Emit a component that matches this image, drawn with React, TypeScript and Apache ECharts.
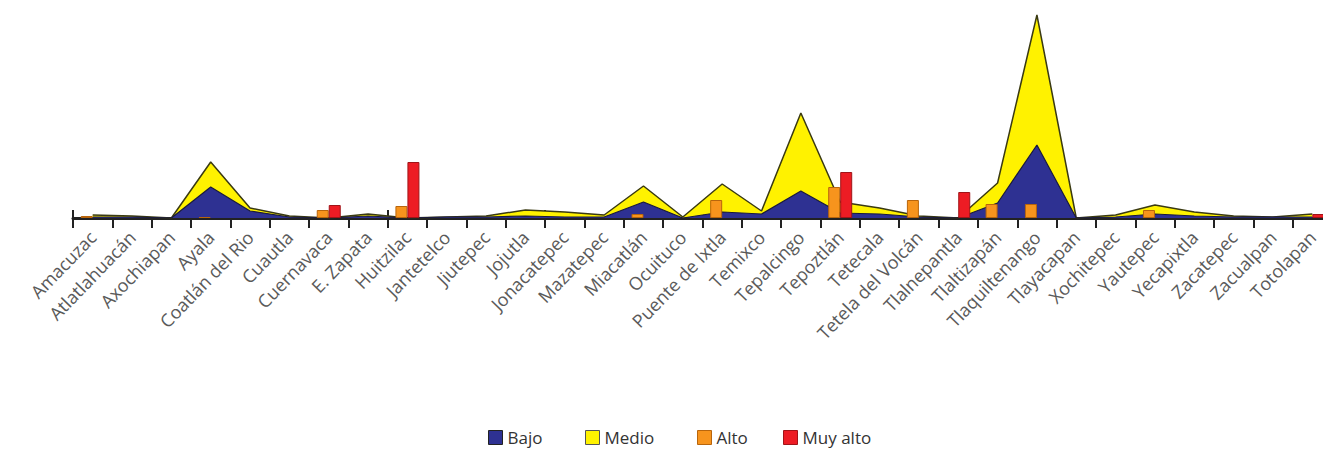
import React, { useEffect, useRef } from "react";
import * as echarts from "echarts";

const municipios = [
  "Amacuzac", "Atlatlahuacán", "Axochiapan", "Ayala", "Coatlán del Rio", "Cuautla",
  "Cuernavaca", "E. Zapata", "Huitzilac", "Jantetelco", "Jiutepec", "Jojutla",
  "Jonacatepec", "Mazatepec", "Miacatlán", "Ocuituco", "Puente de Ixtla", "Temixco",
  "Tepalcingo", "Tepoztlán", "Tetecala", "Tetela del Volcán", "Tlalnepantla", "Tlaltizapán",
  "Tlaquiltenango", "Tlayacapan", "Xochitepec", "Yautepec", "Yecapixtla", "Zacatepec",
  "Zacualpan", "Totolapan",
];

const bajo = [0.5, 0.5, 0, 15.5, 3.5, 0.5, 0, 1, 0, 0.5, 0.5, 1, 0.5, 0.5, 8, 0, 3, 2, 13.5, 2.5, 2, 0.5, 0, 7.5, 36.5, 0, 0.5, 2, 1, 0.5, 0.5, 0.5];
const medio = [1, 0.5, 0, 12.5, 1.5, 0.5, 0, 1, 0, 0, 0.5, 3, 2.5, 1, 8, 0.5, 14, 1.5, 39, 5.5, 3, 0.5, 0, 10, 65, 0, 1, 4.5, 2, 0.5, 0, 1.5];
const alto = [1, 0, 0, 0.5, 0, 0, 4, 0, 6, 0, 0, 0, 0, 0, 2, 0, 9, 0, 0, 15.5, 0, 9, 0, 7, 7, 0, 0, 4, 0, 0, 0, 0];
const muyAlto = [0, 0, 0, 0, 0, 0, 6.5, 0, 28, 0, 0, 0, 0, 0, 0, 0, 0, 0, 0, 23, 0, 0, 13, 0, 0, 0, 0, 0, 0, 0, 0, 2];

const FONT = "'Open Sans', sans-serif";

const legendItems = [
  { name: "Bajo", color: "#2e3192", border: "#222", left: 483 },
  { name: "Medio", color: "#fff200", border: "#555", left: 580 },
  { name: "Alto", color: "#f7941d", border: "#b8650c", left: 692 },
  { name: "Muy alto", color: "#ed1c24", border: "#a01418", left: 778 },
];

const nz = (arr: number[]) => arr.map((v) => (v === 0 ? null : v));

const hiddenY = (gridIndex: number) => ({
  type: "value",
  gridIndex,
  min: 0,
  max: 104,
  show: false,
});

export default function App() {
  const ref = useRef<HTMLDivElement>(null);
  useEffect(() => {
    if (!ref.current) return;
    const chart = echarts.init(ref.current, undefined, { renderer: "svg" });
    const gridBox = { left: 73, width: 1259, top: 10, bottom: 257, containLabel: false, outerBoundsMode: "none" };
    chart.setOption({
      animation: false,
      backgroundColor: "#ffffff",
      textStyle: { fontFamily: FONT },
      grid: [{ ...gridBox }, { ...gridBox }],
      legend: legendItems.map((it) => ({
        left: it.left,
        top: 424,
        itemWidth: 14,
        itemHeight: 14,
        icon: "rect",
        textStyle: { fontSize: 17, color: "#333", fontFamily: FONT },
        data: [
          { name: it.name, itemStyle: { color: it.color, borderColor: it.border, borderWidth: 1 } },
        ],
      })),
      xAxis: [
        {
          type: "category",
          gridIndex: 0,
          data: municipios,
          boundaryGap: true,
          axisLine: { show: true, lineStyle: { color: "#222", width: 3 } },
          axisTick: { show: true, length: 10, lineStyle: { color: "#222", width: 2 } },
          axisLabel: {
            interval: 0,
            rotate: 46,
            margin: 16,
            fontSize: 18,
            color: "#5a5a5a",
            fontFamily: FONT,
          },
        },
        {
          type: "category",
          gridIndex: 1,
          data: municipios,
          boundaryGap: true,
          axisLine: { show: false },
          axisTick: { show: true, inside: true, length: 8, lineStyle: { color: "#222", width: 2 } },
          axisLabel: { show: false },
        },
      ],
      yAxis: [hiddenY(0), hiddenY(1)],
      series: [
        {
          name: "Bajo",
          type: "line",
          stack: "nivel",
          data: bajo,
          symbol: "none",
          z: 2,
          lineStyle: { color: "#1a1a3a", width: 1.2 },
          itemStyle: { color: "#2e3192" },
          areaStyle: { color: "#2e3192", opacity: 1 },
        },
        {
          name: "Medio",
          type: "line",
          stack: "nivel",
          data: medio,
          symbol: "none",
          z: 1,
          lineStyle: { color: "#3a3a12", width: 1.5 },
          itemStyle: { color: "#fff200" },
          areaStyle: { color: "#fff200", opacity: 1 },
        },
        {
          name: "Alto",
          type: "bar",
          data: nz(alto),
          barWidth: 12,
          barGap: "0%",
          z: 5,
          itemStyle: { color: "#f7941d", borderColor: "#b8650c", borderWidth: 1 },
        },
        {
          name: "Muy alto",
          type: "bar",
          data: nz(muyAlto),
          barWidth: 12,
          barGap: "0%",
          z: 5,
          itemStyle: { color: "#ed1c24", borderColor: "#a01418", borderWidth: 1 },
        },
      ],
    });
    return () => chart.dispose();
  }, []);
  return (
    <div
      ref={ref}
      style={{ position: "fixed", left: 0, top: 0, width: 1323, height: 475 }}
    />
  );
}
